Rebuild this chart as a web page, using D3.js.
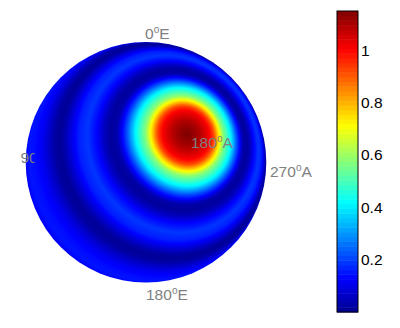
<!DOCTYPE html>
<html>
<head>
<meta charset="utf-8">
<script src="https://d3js.org/d3.v7.min.js"></script>
<style>
  html, body { margin: 0; padding: 0; background: #fff; }
  svg { display: block; font-family: "Liberation Sans", Arial, sans-serif; }
</style>
</head>
<body>
<svg id="chart" width="400" height="328"></svg>
<script>
// radial pattern: angle from the main lobe (deg) and level
const profileAngles = [0, 3, 7, 12, 14.5, 17, 20, 25, 29, 32, 34, 37, 40, 44, 49, 54, 58, 62, 65, 69, 73, 79, 87, 95, 105, 115, 130, 180];
const profileValues = [1.15, 1.13, 1.09, 1.01, 0.92, 0.76, 0.58, 0.41, 0.22, 0.1, 0.03, 0.015, 0.05, 0.13, 0.19, 0.16, 0.1, 0.04, 0.01, 0.02, 0.06, 0.11, 0.14, 0.15, 0.13, 0.1, 0.1, 0.1];

const peakLon = 20.5;   // main lobe position on the sphere, degrees right of centre
const peakLat = 13.5;   // degrees up from centre

const colorTicks = [0.2, 0.4, 0.6, 0.8, 1];
const jetStops = ["#00008f", "#0000ff", "#00ffff", "#ffff00", "#ff0000", "#800000"];
const jetPositions = [0, 0.111, 0.365, 0.62, 0.873, 1];

const sphereLabels = [
    { text: "0", deg: "E", x: 145, y: 39 },
    { text: "180", deg: "A", x: 191, y: 148 },
    { text: "270", deg: "A", x: 270, y: 177 },
    { text: "180", deg: "E", x: 146, y: 300 }
];

const svg = d3.select("#chart");
const cx = 146, cy = 162.3, radius = 120.3;

const profile = d3.scaleLinear().domain(profileAngles).range(profileValues).clamp(true);

// 64 step jet for the colour bar, the sphere is shaded smoothly
const jetLine = d3.scaleLinear().domain(jetPositions).range(jetStops).clamp(true);
const jetSteps = d3.range(64).map(i => jetLine((i + 0.5) / 64));
const color = d3.scaleLinear().domain([0, 1.15]).range([0, 1]).clamp(true);

function drawLabel(g, d) {
    const text = g.append("text")
        .attr("x", d.x)
        .attr("y", d.y)
        .attr("font-size", 15.5)
        .attr("fill", "#808080");
    text.append("tspan").text(d.text);
    if (d.deg) {
        text.append("tspan").attr("font-size", 10).attr("dy", -6).text("o");
        text.append("tspan").attr("dy", 6).text(d.deg);
    }
    return text;
}

// sphere raster, per pixel orthographic view
const size = Math.ceil(radius * 2) + 2;
const canvas = document.createElement("canvas");
canvas.width = size;
canvas.height = size;
const ctx = canvas.getContext("2d");
const lon0 = peakLon * Math.PI / 180, lat0 = peakLat * Math.PI / 180;
const px = Math.sin(lon0) * Math.cos(lat0), py = Math.sin(lat0), pz = Math.cos(lon0) * Math.cos(lat0);
for (let j = 0; j < size; j++) {
    for (let i = 0; i < size; i++) {
        const x = (i + 0.5 - size / 2) / radius;
        const y = -(j + 0.5 - size / 2) / radius;
        const rr = x * x + y * y;
        if (rr > 1.05) continue;
        const z = Math.sqrt(Math.max(0, 1 - rr));
        const angle = Math.acos(Math.max(-1, Math.min(1, x * px + y * py + z * pz))) * 180 / Math.PI;
        ctx.fillStyle = jetLine(color(profile(angle)));
        ctx.fillRect(i, j, 1, 1);
    }
}

svg.append("clipPath").attr("id", "disc")
    .append("circle").attr("cx", cx).attr("cy", cy).attr("r", radius);
svg.append("image")
    .attr("x", cx - size / 2)
    .attr("y", cy - size / 2)
    .attr("width", size)
    .attr("height", size)
    .attr("clip-path", "url(#disc)")
    .attr("href", canvas.toDataURL());

sphereLabels.forEach(d => drawLabel(svg, d));

// the 90 label is cut off by the sphere in the original, only "9C" shows
svg.append("clipPath").attr("id", "cut90")
    .append("rect").attr("x", 15).attr("y", 145).attr("width", 19.5).attr("height", 25);
drawLabel(svg, { text: "90", x: 20.5, y: 163 }).attr("clip-path", "url(#cut90)");

// colour bar
const barX = 337, barW = 21;
const yScale = d3.scaleLinear().domain([0, 1.15]).range([312, 11]);
const bar = svg.append("g");
bar.selectAll("rect")
    .data(jetSteps)
    .enter()
    .append("rect")
    .attr("x", barX)
    .attr("y", (d, i) => yScale((i + 1) * 1.15 / 64))
    .attr("width", barW)
    .attr("height", 301 / 64 + 0.5)
    .attr("fill", d => d);
bar.append("rect")
    .attr("x", barX)
    .attr("y", 11)
    .attr("width", barW)
    .attr("height", 301)
    .attr("fill", "none")
    .attr("stroke", "#000");

const axis = d3.axisRight(yScale).tickValues(colorTicks).tickSize(0).tickPadding(3).tickFormat(d3.format("~g"));
const axisG = svg.append("g").attr("transform", `translate(${barX + barW},0)`).call(axis);
axisG.select(".domain").remove();
axisG.selectAll("text").attr("font-size", 15.5).attr("font-family", "Liberation Sans").attr("fill", "#000");
</script>
</body>
</html>
